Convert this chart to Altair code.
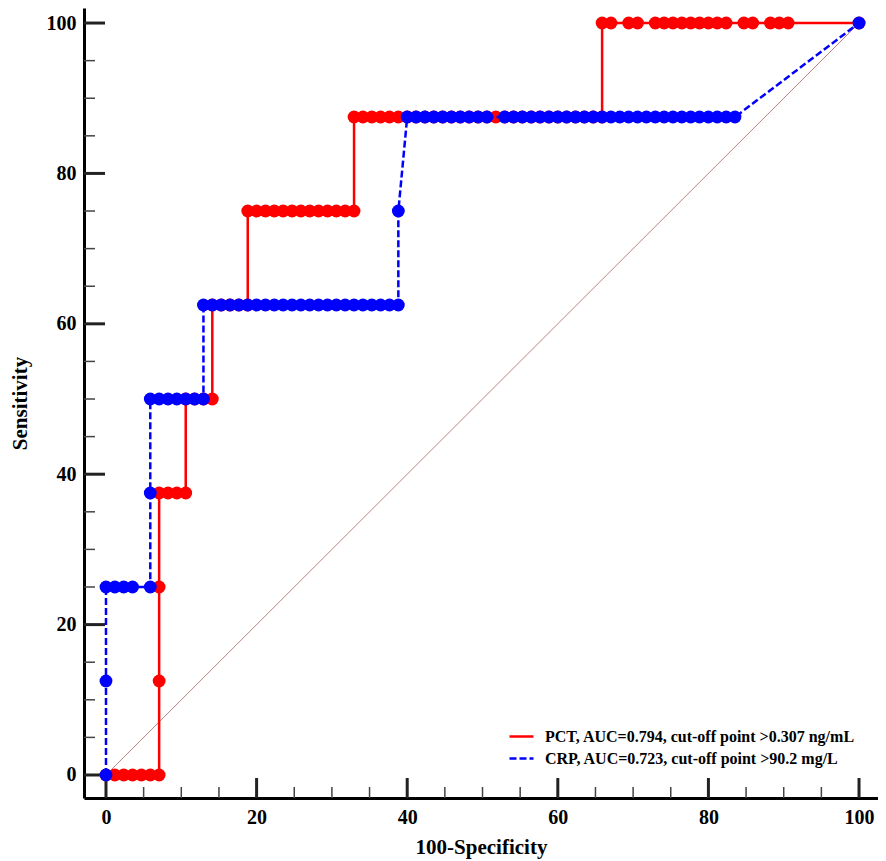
import altair as alt
import pandas as pd

# ROC data: false-positive counts (of 85 negatives)
# and true-positive counts (of 8 positives), one entry per criterion point.
N_NEG = 85
N_POS = 8

PCT_LABEL = "PCT, AUC=0.794, cut-off point >0.307 ng/mL"
CRP_LABEL = "CRP, AUC=0.723, cut-off point >90.2 mg/L"

pct_fp = [0, 1, 2, 3, 4, 5, 6,
          6, 6,
          6, 7, 8, 9,
          9, 10, 11, 12,
          12, 13, 14, 15, 16,
          16, 17, 18, 19, 20, 21, 22, 23, 24, 25, 26, 27, 28,
          28, 29, 30, 31, 32, 33, 34, 35, 36, 37, 38, 39, 40, 41, 42, 43, 44,
          45, 46, 47, 48, 49, 50, 51, 52, 53, 54, 55, 56,
          56, 57, 59, 60, 62, 63, 64, 65, 66, 67, 68, 69, 70, 72, 73, 75, 76, 77, 85]
pct_tp = [0, 0, 0, 0, 0, 0, 0,
          1, 2,
          3, 3, 3, 3,
          4, 4, 4, 4,
          5, 5, 5, 5, 5,
          6, 6, 6, 6, 6, 6, 6, 6, 6, 6, 6, 6, 6,
          7, 7, 7, 7, 7, 7, 7, 7, 7, 7, 7, 7, 7, 7, 7, 7, 7,
          7, 7, 7, 7, 7, 7, 7, 7, 7, 7, 7, 7,
          8, 8, 8, 8, 8, 8, 8, 8, 8, 8, 8, 8, 8, 8, 8, 8, 8, 8, 8]

crp_fp = [0, 0, 0, 1, 2, 3, 5,
          5, 5, 6, 7, 8, 9, 10, 11,
          11, 12, 13, 14, 15, 16, 17, 18, 19, 20, 21, 22, 23, 24, 25, 26, 27,
          28, 29, 30, 31, 32, 33,
          33,
          34, 35, 36, 37, 38, 39, 40, 41, 42, 43,
          45, 46, 47, 48, 49, 50, 51, 52, 53, 54, 55, 56, 57, 58, 59, 60,
          61, 62, 63, 64, 65, 66, 67, 68, 69, 70, 71,
          85]
crp_tp = [0, 1, 2, 2, 2, 2, 2,
          3, 4, 4, 4, 4, 4, 4, 4,
          5, 5, 5, 5, 5, 5, 5, 5, 5, 5, 5, 5, 5, 5, 5, 5, 5,
          5, 5, 5, 5, 5, 5,
          6,
          7, 7, 7, 7, 7, 7, 7, 7, 7, 7,
          7, 7, 7, 7, 7, 7, 7, 7, 7, 7, 7, 7, 7, 7, 7, 7,
          7, 7, 7, 7, 7, 7, 7, 7, 7, 7, 7,
          8]

major_ticks = [0, 20, 40, 60, 80, 100]
minor_ticks = [5, 10, 15, 25, 30, 35, 45, 50, 55, 65, 70, 75, 85, 90, 95]
diag = [0, 100]


def make_df(fp, tp, label):
    return pd.DataFrame({
        "x": [100.0 * v / N_NEG for v in fp],
        "y": [100.0 * v / N_POS for v in tp],
        "series": label,
        "order": list(range(len(fp))),
    })


pct = make_df(pct_fp, pct_tp, PCT_LABEL)
crp = make_df(crp_fp, crp_tp, CRP_LABEL)

W, H = 794, 790
FONT = "Liberation Serif"

xscale = alt.Scale(domain=[-2.92, 102.52], nice=False, zero=False)
yscale = alt.Scale(domain=[-3.06, 102.0], nice=False, zero=False)

color_scale = alt.Scale(domain=[PCT_LABEL, CRP_LABEL], range=["#ff0000", "#0000ff"])
dash_scale = alt.Scale(domain=[PCT_LABEL, CRP_LABEL], range=[[1, 0], [7, 3]])

legend = alt.Legend(
    title=None, orient="none", legendX=424, legendY=715,
    symbolType="stroke", symbolSize=576, symbolStrokeWidth=2.5,
    labelFont=FONT, labelFontWeight="bold", labelFontSize=16, labelColor="black",
    labelOffset=10, rowPadding=-10, padding=0, labelLimit=500,
)

xaxis = alt.Axis(values=major_ticks, title="100-Specificity", grid=False, ticks=False, tickSize=0,
                 domainColor="black", domainWidth=3, labelFont=FONT, labelFontWeight="bold",
                 labelFontSize=20, labelColor="black", labelPadding=9, titleFont=FONT,
                 titleFontWeight="bold", titleFontSize=21, titleColor="black", titlePadding=9)
yaxis = alt.Axis(values=major_ticks, title="Sensitivity", grid=False, ticks=False, tickSize=0,
                 domainColor="black", domainWidth=3, labelFont=FONT, labelFontWeight="bold",
                 labelFontSize=20, labelColor="black", labelPadding=8, titleFont=FONT,
                 titleFontWeight="bold", titleFontSize=21, titleColor="black", titlePadding=16)

X = alt.X("x:Q", scale=xscale, axis=xaxis)
Y = alt.Y("y:Q", scale=yscale, axis=yaxis)

diag_layer = alt.Chart(pd.DataFrame({"x": diag, "y": diag})).mark_line(
    color="#a8645f", strokeWidth=0.8
).encode(x=X, y=Y)

xmaj = alt.Chart(pd.DataFrame({"x": major_ticks})).mark_rule(color="#222", strokeWidth=3).encode(
    x=X, y=alt.value(H), y2=alt.value(H - 20))
xmin = alt.Chart(pd.DataFrame({"x": minor_ticks})).mark_rule(color="#444", strokeWidth=1.5).encode(
    x=X, y=alt.value(H), y2=alt.value(H - 11))
ymaj = alt.Chart(pd.DataFrame({"y": major_ticks})).mark_rule(color="#222", strokeWidth=3).encode(
    y=Y, x=alt.value(0), x2=alt.value(21))
ymin = alt.Chart(pd.DataFrame({"y": minor_ticks})).mark_rule(color="#444", strokeWidth=1.5).encode(
    y=Y, x=alt.value(0), x2=alt.value(11))


def line_layer(df):
    return alt.Chart(df).mark_line(strokeWidth=2.5).encode(
        x=X, y=Y,
        order="order:Q",
        color=alt.Color("series:N", scale=color_scale, legend=legend),
        strokeDash=alt.StrokeDash("series:N", scale=dash_scale, legend=legend),
    )


def point_layer(df, col):
    return alt.Chart(df).mark_circle(size=165, opacity=1, color=col).encode(x=X, y=Y)


chart = alt.layer(
    diag_layer, xmin, xmaj, ymin, ymaj,
    line_layer(pct), point_layer(pct, "#ff0000"),
    line_layer(crp), point_layer(crp, "#0000ff"),
).properties(
    width=W, height=H,
    autosize=alt.AutoSizeParams(type="none"),
    padding={"left": 76, "top": 0, "right": 0, "bottom": 62},
    background="white",
).configure_view(strokeWidth=0)

chart.save("out.html", embed_options={"renderer": "svg", "actions": False})
